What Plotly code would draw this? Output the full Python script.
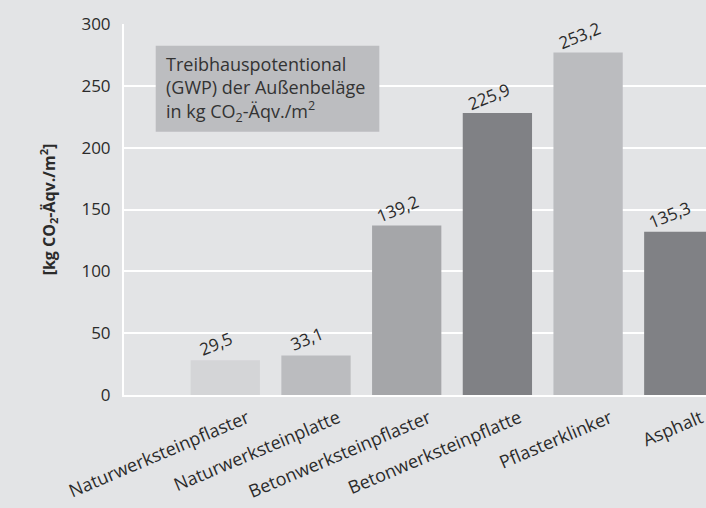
import plotly.graph_objects as go

categories = ["Naturwerksteinpflaster", "Naturwerksteinplatte", "Betonwerksteinpflaster",
              "Betonwerksteinpflatte", "Pflasterklinker", "Asphalt"]
bar_heights = [28, 32, 137, 228, 277, 132]
value_labels = ["29,5", "33,1", "139,2", "225,9", "253,2", "135,3"]
bar_colors = ["#d4d5d7", "#bbbcbf", "#a5a6a9", "#808185", "#bbbcbf", "#808185"]
y_ticks = [0, 50, 100, 150, 200, 250, 300]

BG = "#e3e4e6"
TXT = "#2b2b2b"
FONT = "Open Sans"

fig = go.Figure()
fig.add_trace(go.Bar(
    x=list(range(len(categories))), y=bar_heights,
    marker=dict(color=bar_colors, line=dict(width=0)),
    width=0.764, hoverinfo="skip", showlegend=False,
))

for i, (h, lab) in enumerate(zip(bar_heights, value_labels)):
    fig.add_annotation(x=i, y=h, text=lab, showarrow=False, textangle=-22,
                       xshift=-9, yshift=17, xanchor="center", yanchor="middle",
                       font=dict(family=FONT, size=17, color=TXT))

# Info box
fig.add_shape(type="rect", xref="paper", yref="paper",
              x0=0.0545, x1=0.4387, y0=0.7097, y1=0.9415,
              fillcolor="#bcbdc0", line=dict(width=0), layer="above")
fig.add_annotation(xref="paper", yref="paper", x=0.0687, y=0.8256,
                   xanchor="left", yanchor="middle", align="left", showarrow=False,
                   text="Treibhauspotentional<br>(GWP) der Außenbeläge<br>in kg CO<sub>2</sub>-Äqv./m<sup>2</sup>",
                   font=dict(family=FONT, size=18, color="#333333"))

fig.update_layout(
    width=706, height=508,
    margin=dict(l=124, r=0, t=24, b=113),
    paper_bgcolor=BG, plot_bgcolor=BG,
    font=dict(family=FONT, color=TXT),
    bargap=0.236,
)
fig.update_xaxes(
    range=[-1.117, 5.30],
    tickmode="array", tickvals=list(range(len(categories))), ticktext=categories,
    tickangle=-23, tickfont=dict(family=FONT, size=18, color=TXT),
    showgrid=False, zeroline=False, showline=True, linecolor="white", linewidth=2,
    ticks="", ticklabelshift=22, ticklabelstandoff=4, ticklabeloverflow="allow",
)
fig.update_yaxes(
    range=[0, 300], tickmode="array", tickvals=y_ticks,
    tickfont=dict(family=FONT, size=17, color=TXT),
    showgrid=True, gridcolor="white", gridwidth=1.5,
    zeroline=False, showline=True, linecolor="white", linewidth=2,
    ticks="", ticklabelstandoff=8,
    title=dict(text="<b>[kg CO<sub>2</sub>-Äqv./m<sup>2</sup>]</b>",
               font=dict(family=FONT, size=16, color=TXT), standoff=22),
)

fig.write_html("out.html", config={"displayModeBar": False},
               post_script="document.body.style.margin='0';document.body.style.padding='0';")
